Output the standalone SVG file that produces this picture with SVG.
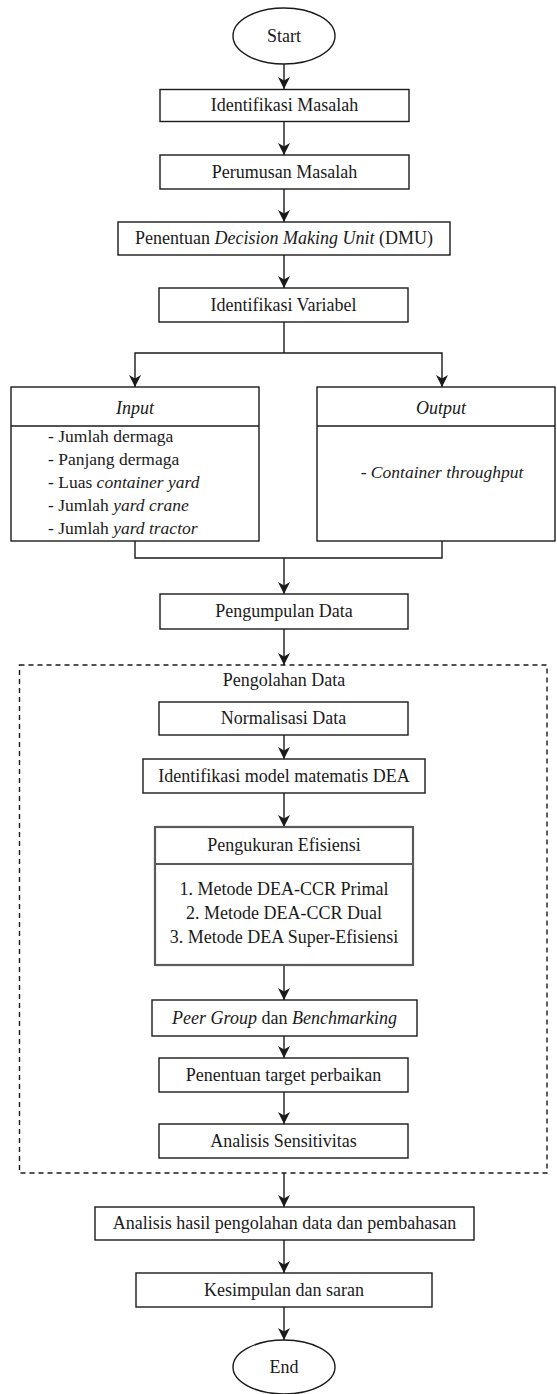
<svg xmlns="http://www.w3.org/2000/svg" width="557" height="1394" viewBox="0 0 557 1394">
  <style>
    .box { fill: #ffffff; stroke: #1a1a1a; stroke-width: 1.4; }
    .box-grey { fill: #ffffff; stroke: #5a5a5a; stroke-width: 2.2; }
    .dash { fill: none; stroke: #1a1a1a; stroke-width: 1.4; stroke-dasharray: 5 4; }
    .edge { fill: none; stroke: #1a1a1a; stroke-width: 1.4; }
    .arrow { fill: none; stroke: #1a1a1a; stroke-width: 1.4; marker-end: url(#head); }
    .lbl { font-family: 'Liberation Serif', 'DejaVu Serif', serif; font-size: 18px; fill: #1a1a1a; }
    .c { text-anchor: middle; }
    .list { font-size: 17.5px; }
    .i { font-style: italic; }
  </style>
  <defs>
    <marker id="head" viewBox="0 0 12 12" refX="12" refY="6" markerWidth="12" markerHeight="12" markerUnits="userSpaceOnUse" orient="auto">
      <path d="M0,0 L12,6 L0,12 L3.5,6 Z" fill="#1a1a1a"/>
    </marker>
  </defs>

  <rect width="557" height="1394" fill="#ffffff"/>

  <g font-family="Liberation Serif, DejaVu Serif, serif">
  <!-- dashed frame for the data processing stage -->
  <g id="pengolahan-frame">
    <rect class="dash" x="19.5" y="665" width="527.5" height="508"/>
    <text class="lbl c" x="284" y="686">Pengolahan Data</text>
  </g>

  <!-- connectors -->
  <g id="connectors">
    <line class="arrow" x1="284" y1="64" x2="284" y2="89"/>
    <line class="arrow" x1="284" y1="122" x2="284" y2="155"/>
    <line class="arrow" x1="284" y1="189" x2="284" y2="222"/>
    <line class="arrow" x1="284" y1="255" x2="284" y2="288"/>
    <polyline class="edge" points="284,322 284,353"/>
    <polyline class="arrow" points="284,353 135,353 135,387"/>
    <polyline class="arrow" points="284,353 442,353 442,387"/>
    <polyline class="edge" points="135,541 135,558 442,558 442,541"/>
    <line class="arrow" x1="284" y1="558" x2="284" y2="594"/>
    <line class="arrow" x1="284" y1="629" x2="284" y2="665"/>
    <line class="arrow" x1="284" y1="735" x2="284" y2="759"/>
    <line class="arrow" x1="284" y1="793" x2="284" y2="827"/>
    <line class="arrow" x1="284" y1="965" x2="284" y2="1000"/>
    <line class="arrow" x1="284" y1="1036" x2="284" y2="1058"/>
    <line class="arrow" x1="284" y1="1092" x2="284" y2="1124"/>
    <line class="arrow" x1="284" y1="1173" x2="284" y2="1207"/>
    <line class="arrow" x1="284" y1="1240" x2="284" y2="1273"/>
    <line class="arrow" x1="284" y1="1307" x2="284" y2="1340"/>
  </g>

  <g id="start">
    <ellipse class="box" cx="284" cy="36" rx="51" ry="28"/>
    <text class="lbl c" x="284" y="42">Start</text>
  </g>

  <g id="identifikasi-masalah">
    <rect class="box" x="160" y="89.5" width="249" height="32"/>
    <text class="lbl c" x="284.5" y="111">Identifikasi Masalah</text>
  </g>

  <g id="perumusan-masalah">
    <rect class="box" x="160" y="155" width="249" height="34"/>
    <text class="lbl c" x="284.5" y="178">Perumusan Masalah</text>
  </g>

  <g id="penentuan-dmu">
    <rect class="box" x="118" y="222" width="332" height="33"/>
    <text class="lbl c" x="284" y="244">Penentuan <tspan class="i">Decision Making Unit</tspan> (DMU)</text>
  </g>

  <g id="identifikasi-variabel">
    <rect class="box" x="159" y="288" width="249" height="34"/>
    <text class="lbl c" x="283.5" y="311">Identifikasi Variabel</text>
  </g>

  <g id="input">
    <rect class="box" x="11" y="387" width="248" height="154"/>
    <line class="edge" x1="11" y1="426" x2="259" y2="426"/>
    <text class="lbl c i" x="135" y="414">Input</text>
    <text class="lbl list" x="48" y="442">- Jumlah dermaga</text>
    <text class="lbl list" x="48" y="465">- Panjang dermaga</text>
    <text class="lbl list" x="48" y="488">- Luas <tspan class="i">container yard</tspan></text>
    <text class="lbl list" x="48" y="511">- Jumlah <tspan class="i">yard crane</tspan></text>
    <text class="lbl list" x="48" y="534">- Jumlah <tspan class="i">yard tractor</tspan></text>
  </g>

  <g id="output">
    <rect class="box" x="317" y="387" width="238" height="154"/>
    <line class="edge" x1="317" y1="426" x2="555" y2="426"/>
    <text class="lbl c i" x="441" y="414">Output</text>
    <text class="lbl c i list" x="442" y="478">- Container throughput</text>
  </g>

  <g id="pengumpulan-data">
    <rect class="box" x="160" y="594" width="248" height="35"/>
    <text class="lbl c" x="284" y="617">Pengumpulan Data</text>
  </g>

  <g id="normalisasi-data">
    <rect class="box" x="159" y="702" width="249" height="33"/>
    <text class="lbl c" x="283.5" y="724">Normalisasi Data</text>
  </g>

  <g id="identifikasi-model">
    <rect class="box" x="143" y="759" width="282" height="34"/>
    <text class="lbl c" x="284" y="782">Identifikasi model matematis DEA</text>
  </g>

  <g id="pengukuran-efisiensi">
    <rect class="box-grey" x="155" y="827" width="258" height="138"/>
    <line class="box-grey" x1="155" y1="864" x2="413" y2="864"/>
    <text class="lbl c" x="284" y="851">Pengukuran Efisiensi</text>
    <text class="lbl c" x="284" y="895">1. Metode DEA-CCR Primal</text>
    <text class="lbl c" x="284" y="919">2. Metode DEA-CCR Dual</text>
    <text class="lbl c" x="284" y="943">3. Metode DEA Super-Efisiensi</text>
  </g>

  <g id="peer-group">
    <rect class="box" x="152" y="1000" width="265" height="36"/>
    <text class="lbl c" x="284.5" y="1024"><tspan class="i">Peer Group</tspan> dan <tspan class="i">Benchmarking</tspan></text>
  </g>

  <g id="penentuan-target">
    <rect class="box" x="159" y="1058" width="249" height="34"/>
    <text class="lbl c" x="283.5" y="1081">Penentuan target perbaikan</text>
  </g>

  <g id="analisis-sensitivitas">
    <rect class="box" x="159" y="1124" width="249" height="34"/>
    <text class="lbl c" x="283.5" y="1147">Analisis Sensitivitas</text>
  </g>

  <g id="analisis-hasil">
    <rect class="box" x="95" y="1207" width="379" height="33"/>
    <text class="lbl c" x="284.5" y="1229">Analisis hasil pengolahan data dan pembahasan</text>
  </g>

  <g id="kesimpulan">
    <rect class="box" x="136" y="1273" width="296" height="34"/>
    <text class="lbl c" x="284" y="1296">Kesimpulan dan saran</text>
  </g>

  <g id="end">
    <ellipse class="box" cx="284" cy="1367" rx="51" ry="27"/>
    <text class="lbl c" x="284" y="1373">End</text>
  </g>
  </g>
</svg>
